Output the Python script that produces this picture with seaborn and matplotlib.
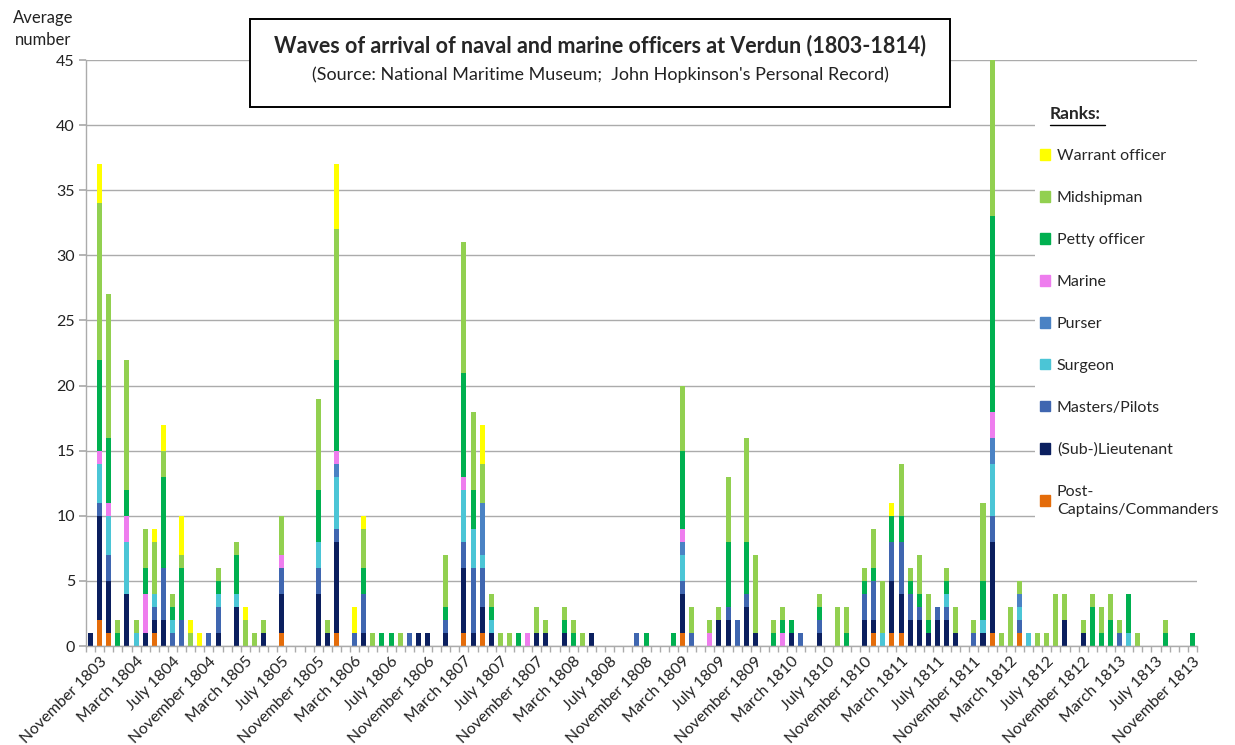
import matplotlib.pyplot as plt
import numpy as np
import pandas as pd
import seaborn as sns
from matplotlib.lines import Line2D
from matplotlib.patches import Patch, Rectangle

# months on the x axis: October 1803 .. November 1813 (one bar per month)
months = pd.date_range("1803-10-01", "1813-11-01", freq="MS")
month_labels = [f"{m.strftime('%B')} {m.year}" for m in months]

# arrivals per month and rank (month index -> count)
post_captains = {1: 2, 2: 1, 7: 1, 21: 1, 27: 1, 41: 1, 43: 1, 65: 1, 86: 1, 88: 1,
                 89: 1, 99: 1, 102: 1}
lieutenants = {0: 1, 1: 8, 2: 4, 4: 4, 6: 1, 7: 1, 8: 2, 14: 1, 16: 3, 19: 1, 21: 3,
               25: 4, 26: 1, 27: 7, 30: 1, 36: 1, 37: 1, 39: 1, 41: 5, 42: 1, 43: 2,
               44: 1, 49: 1, 50: 1, 52: 1, 55: 1, 65: 3, 69: 2, 70: 2, 72: 3, 73: 1,
               77: 1, 80: 1, 85: 2, 86: 1, 88: 4, 89: 3, 90: 2, 91: 2, 92: 1, 93: 2,
               94: 2, 95: 1, 98: 1, 99: 7, 107: 2, 109: 1}
masters = {1: 1, 2: 2, 7: 1, 8: 4, 9: 1, 10: 2, 13: 1, 14: 2, 21: 2, 25: 2, 27: 1,
           29: 1, 30: 3, 35: 1, 39: 1, 41: 2, 42: 5, 43: 3, 60: 1, 65: 1, 66: 1,
           70: 1, 71: 2, 72: 1, 78: 1, 80: 1, 85: 2, 86: 3, 88: 3, 89: 4, 90: 2,
           91: 1, 93: 1, 94: 1, 97: 1, 99: 2, 102: 1, 113: 1}
surgeons = {1: 3, 2: 3, 4: 4, 5: 1, 7: 1, 9: 1, 14: 1, 16: 1, 25: 2, 27: 4, 41: 4,
            42: 3, 43: 1, 44: 1, 65: 2, 87: 1, 94: 1, 98: 1, 99: 4, 102: 1, 103: 1,
            114: 1}
pursers = {27: 1, 43: 4, 65: 1, 99: 2, 102: 1}
marines = {1: 1, 2: 1, 4: 2, 6: 3, 21: 1, 27: 1, 41: 1, 48: 1, 65: 1, 68: 1, 76: 1,
           99: 2}
petty_officers = {1: 7, 2: 5, 3: 1, 4: 2, 6: 2, 8: 7, 9: 1, 10: 4, 14: 1, 16: 3,
                  25: 4, 27: 7, 30: 2, 32: 1, 33: 1, 39: 1, 41: 8, 42: 3, 44: 1,
                  47: 1, 52: 1, 53: 1, 61: 1, 64: 1, 65: 6, 70: 5, 72: 4, 75: 1,
                  76: 1, 77: 1, 80: 1, 83: 1, 85: 1, 86: 1, 88: 2, 89: 2, 90: 1,
                  91: 1, 92: 1, 94: 1, 98: 3, 99: 15, 110: 3, 111: 1, 112: 2, 114: 3,
                  118: 1, 121: 1}
midshipmen = {1: 12, 2: 11, 3: 1, 4: 10, 5: 1, 6: 3, 7: 4, 8: 2, 9: 1, 10: 1, 11: 1,
              14: 1, 16: 1, 17: 2, 18: 1, 19: 1, 21: 3, 25: 7, 26: 1, 27: 10, 30: 3,
              31: 1, 34: 1, 39: 4, 41: 10, 42: 6, 43: 3, 44: 1, 45: 1, 46: 1, 49: 2,
              50: 1, 52: 1, 53: 1, 54: 1, 65: 5, 66: 2, 68: 1, 69: 1, 70: 5, 72: 8,
              73: 6, 75: 1, 76: 1, 80: 1, 82: 3, 83: 2, 85: 1, 86: 3, 87: 4, 89: 4,
              90: 1, 91: 3, 92: 2, 94: 1, 95: 2, 97: 1, 98: 6, 99: 12, 100: 1, 101: 3,
              102: 1, 104: 1, 105: 1, 106: 4, 107: 2, 109: 1, 110: 1, 111: 2, 112: 2,
              113: 1, 115: 1, 118: 1}
warrant_officers = {1: 3, 7: 1, 8: 2, 10: 3, 11: 1, 12: 1, 17: 1, 27: 5, 29: 2, 30: 1,
                    43: 3, 88: 1}

# stacking order, bottom to top
ranks = ["Post-\nCaptains/Commanders", "(Sub-)Lieutenant", "Masters/Pilots", "Surgeon",
         "Purser", "Marine", "Petty officer", "Midshipman", "Warrant officer"]
rank_data = [post_captains, lieutenants, masters, surgeons, pursers, marines,
             petty_officers, midshipmen, warrant_officers]
colors = ["#E46C0A", "#0B1F5F", "#3F66B0", "#4BC5D6", "#4A82C4", "#EE7DEE",
          "#00B050", "#92D050", "#FFFF00"]

n = len(months)
counts = pd.DataFrame({r: [d.get(i, 0) for i in range(n)] for r, d in zip(ranks, rank_data)})
cum = counts.cumsum(axis=1)

sns.set_theme(style="white")
plt.rcParams["font.family"] = ["Lato", "DejaVu Sans"]

fig = plt.figure(figsize=(12.35, 7.45), dpi=100)
ax = fig.add_axes([86 / 1235, 1 - 646 / 745, 1111 / 1235, 586 / 745])

# stacked bars: draw cumulative totals from the top layer down
x = np.arange(n)
for r, c in reversed(list(zip(ranks, colors))):
    sns.barplot(x=x, y=cum[r].values, color=c, saturation=1, width=0.55,
                linewidth=0, errorbar=None, ax=ax)

ax.set_xlim(-0.5, n - 0.5)
ax.set_ylim(0, 45)
ax.set_yticks(range(0, 46, 5))
ax.yaxis.grid(True, color="#ABABAB", linewidth=1)
ax.set_axisbelow(True)

tick_pos = list(range(1, n, 4))
ax.set_xticks(tick_pos)
ax.set_xticklabels([month_labels[i] for i in tick_pos], rotation=45, ha="right",
                   rotation_mode="anchor", fontsize=11.5, color="#222222")
ax.set_xticks(np.arange(-0.5, n, 1), minor=True)
ax.tick_params(axis="x", which="major", length=0, pad=6)
ax.tick_params(axis="x", which="minor", length=4, color="#ABABAB", width=1, bottom=True)
ax.tick_params(axis="y", length=5, color="#ABABAB", left=True, labelsize=11.5,
               labelcolor="#222222", pad=3)
ax.set_xlabel("")
ax.set_ylabel("")
for side in ["top", "right"]:
    ax.spines[side].set_visible(False)
for side in ["left", "bottom"]:
    ax.spines[side].set_color("#ABABAB")
    ax.spines[side].set_linewidth(1)

fig.text(43 / 1235, 1 - 29 / 745, "Average\nnumber", ha="center", va="center",
         fontsize=12, linespacing=1.45, color="#222222")

# title box
fig.add_artist(Rectangle((250 / 1235, 1 - 107 / 745), 700 / 1235, 88 / 745,
                         transform=fig.transFigure, facecolor="white",
                         edgecolor="black", linewidth=1.4, zorder=3))
fig.text(600 / 1235, 1 - 46 / 745,
         "Waves of arrival of naval and marine officers at Verdun (1803-1814)",
         ha="center", va="center", fontsize=15.5, fontweight="bold", zorder=4)
fig.text(600 / 1235, 1 - 75 / 745,
         "(Source: National Maritime Museum;  John Hopkinson's Personal Record)",
         ha="center", va="center", fontsize=13, color="#222222", zorder=4)

# legend on a white patch that hides the grid lines
fig.add_artist(Rectangle((1035 / 1235, 1 - 540 / 745), 200 / 1235, 440 / 745,
                         transform=fig.transFigure, facecolor="white",
                         edgecolor="none", zorder=4))
fig.text(1050 / 1235, 1 - 114 / 745, "Ranks:", ha="left", va="center",
         fontsize=12.5, fontweight="bold", zorder=6)
fig.add_artist(Line2D([1050 / 1235, 1105 / 1235], [1 - 125 / 745] * 2,
                      transform=fig.transFigure, color="black", linewidth=1, zorder=6))
handles = [Patch(color=c) for c in reversed(colors)]
leg = fig.legend(handles, list(reversed(ranks)), loc="upper left",
                 bbox_to_anchor=(1040 / 1235, 1 - 149 / 745), frameon=False,
                 fontsize=11.5, handlelength=0.65, handleheight=0.65,
                 handletextpad=0.4, labelspacing=1.75, borderaxespad=0,
                 borderpad=0)
leg.get_texts()[-1].set_linespacing(1.35)
leg.set_zorder(6)

fig.savefig("out.png", dpi=100)
